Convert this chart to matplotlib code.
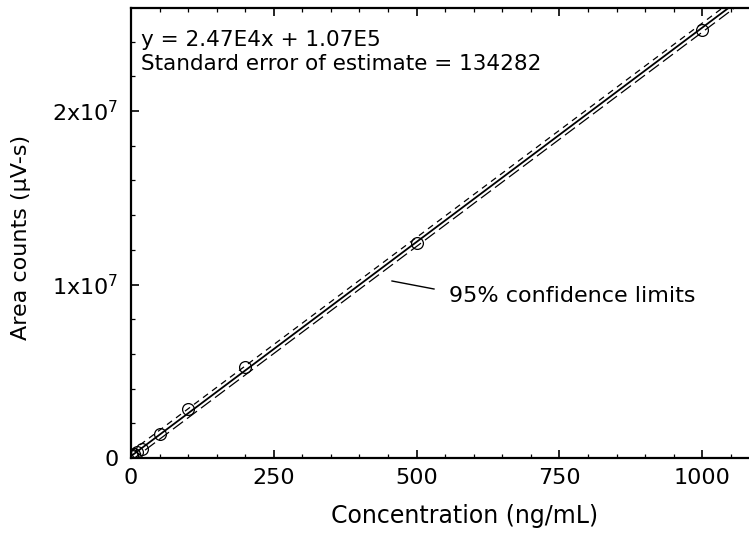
import numpy as np
import matplotlib
matplotlib.use("Agg")
import matplotlib.pyplot as plt
from matplotlib.ticker import MultipleLocator, FixedLocator, FixedFormatter

plt.rcParams['font.family'] = ['DejaVu Sans']
plt.rcParams['mathtext.fontset'] = 'custom'
plt.rcParams['mathtext.rm'] = 'DejaVu Sans'

# Data
conc = [1, 2, 5, 10, 20, 50, 100, 200, 500, 1000]
area = [1.3e5, 1.6e5, 2.3e5, 3.5e5, 5.4e5, 1.38e6, 2.80e6, 5.22e6, 1.240e7, 2.467e7]
slope = 2.47e4
intercept = 1.07e5
ci_halfwidth = 2.6e5
x_ticks = [0, 250, 500, 750, 1000]
y_ticks = [0, 1e7, 2e7]
y_tick_labels = ['0', r'$\mathregular{1x10^{7}}$', r'$\mathregular{2x10^{7}}$']
eq_text = "y = 2.47E4x + 1.07E5"
se_text = "Standard error of estimate = 134282"

W, H = 749, 539
fig = plt.figure(figsize=(W / 100, H / 100), dpi=100)
ax = fig.add_axes([131 / W, (H - 458) / H, (W - 131) / W + 0.01, (458 - 8) / H])

xmax = 1095
ymax = 2.594e7
xl = np.array([0, xmax])
fit = slope * xl + intercept
ax.plot(xl, fit, color='black', lw=1.3, zorder=3)
ax.plot(xl, fit + ci_halfwidth, color='black', lw=0.9, dashes=(5, 4), zorder=2)
ax.plot(xl, fit - ci_halfwidth, color='black', lw=0.9, dashes=(10, 4), zorder=2)
ax.plot(conc, area, linestyle='none', marker='o', ms=8.5, mfc='none', mec='black', mew=0.9, zorder=4)

ax.set_xlim(0, xmax)
ax.set_ylim(0, ymax)

ax.xaxis.set_major_locator(FixedLocator(x_ticks))
ax.xaxis.set_minor_locator(MultipleLocator(50))
ax.yaxis.set_major_locator(FixedLocator(y_ticks))
ax.yaxis.set_major_formatter(FixedFormatter(y_tick_labels))
ax.yaxis.set_minor_locator(MultipleLocator(2e6))

ax.tick_params(axis='both', which='both', direction='in', top=True, right=False, labelsize=16, color='black')
ax.tick_params(axis='both', which='major', length=6, width=1.2)
ax.tick_params(axis='both', which='minor', length=3, width=0.9)
ax.tick_params(axis='x', which='major', pad=7)
ax.tick_params(axis='y', which='major', pad=9)

for s in ['left', 'bottom', 'top']:
    ax.spines[s].set_linewidth(1.6)
ax.spines['right'].set_visible(False)

fig.text(141 / W, 1 - 40 / H, eq_text, fontsize=15.5, va='center', ha='left')
fig.text(141 / W, 1 - 64 / H, se_text, fontsize=15.5, va='center', ha='left')

# annotation for confidence limits
fig.add_artist(plt.Line2D([392 / W, 434 / W], [1 - 281 / H, 1 - 289 / H], color='black', lw=1.0))
fig.text(449 / W, 1 - 296 / H, "95% confidence limits", fontsize=16, va='center', ha='left')

fig.text(465 / W, 1 - 516 / H, "Concentration (ng/mL)", fontsize=17, va='center', ha='center')
fig.text(21 / W, 1 - 237 / H, "Area counts (μV-s)", fontsize=16, va='center', ha='center', rotation=90)

fig.savefig('out.png', dpi=100)
